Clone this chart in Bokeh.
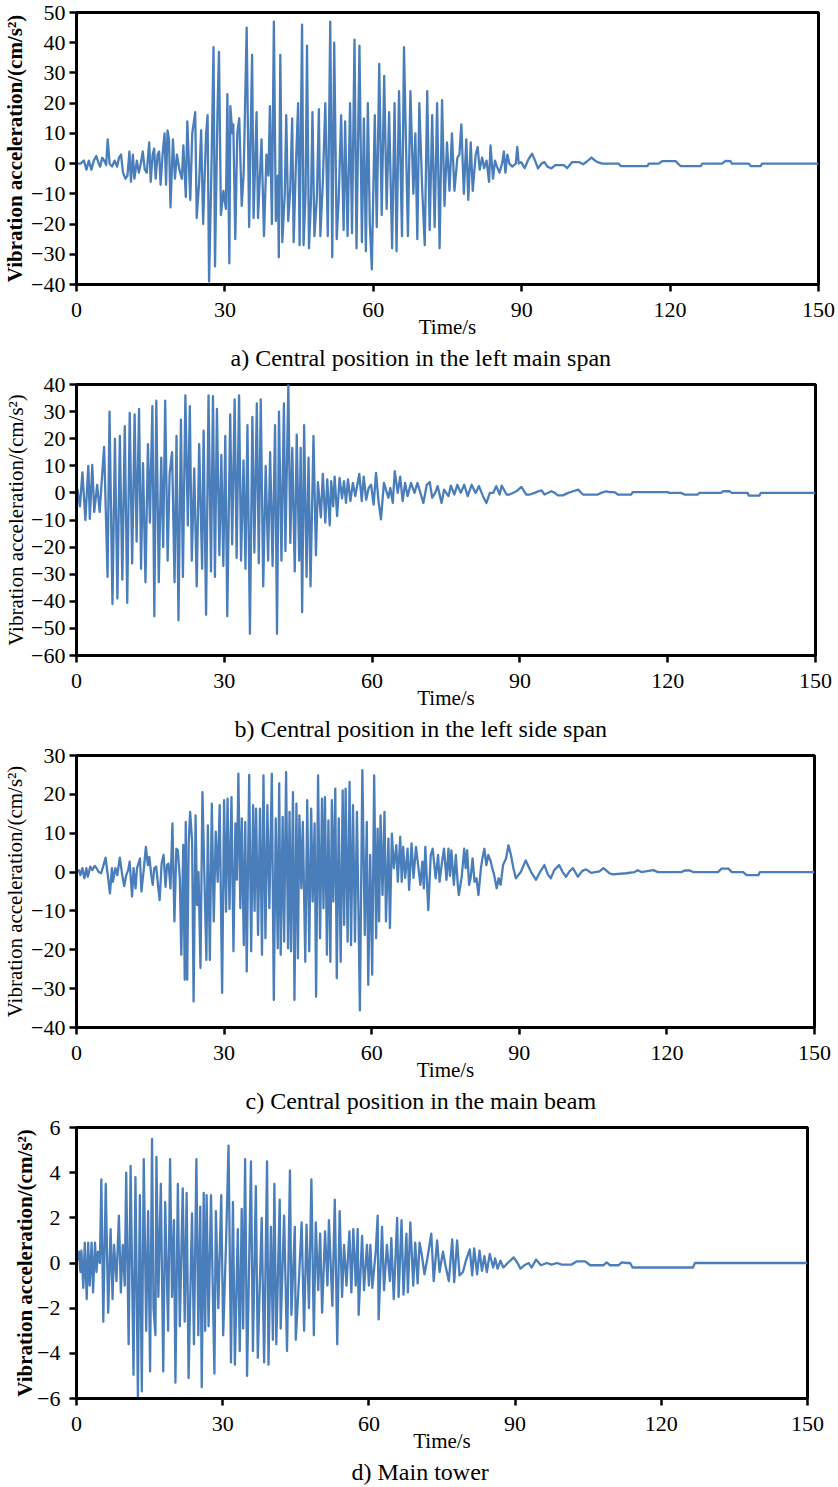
from bokeh.plotting import figure
from bokeh.layouts import column
from bokeh.models import Range1d, FixedTicker, Title
from bokeh.embed import file_html
from bokeh.resources import INLINE

# ---------------- data ----------------
x_ticks = [0, 30, 60, 90, 120, 150]

# a) Central position in the left main span
t_a = [0.0, 0.8, 1.5, 2.0, 2.5, 3.0, 3.5, 4.0, 4.5, 4.8,
       5.2, 5.6, 6.0, 6.3, 6.7, 7.2, 7.7, 8.2, 8.6, 9.0,
       9.4, 9.9, 10.3, 10.7, 11.0, 11.4, 11.7, 12.2, 12.6, 13.0,
       13.4, 13.8, 14.2, 14.7, 15.0, 15.4, 15.7, 16.0, 16.4, 16.7,
       17.0, 17.4, 17.8, 18.1, 18.4, 18.7, 19.0, 19.5, 19.9, 20.3,
       20.8, 21.3, 21.6, 22.1, 22.4, 23.0, 23.4, 24.0, 24.3, 24.8,
       25.2, 25.6, 26.2, 26.5, 26.8, 27.3, 27.7, 28.0, 28.5, 28.8,
       29.2, 29.7, 30.2, 30.5, 30.9, 31.1, 31.5, 31.7, 32.1, 32.5,
       32.9, 33.4, 33.8, 34.4, 34.9, 35.2, 35.5, 35.8, 36.4, 36.7,
       37.4, 37.9, 38.4, 38.8, 39.1, 39.5, 39.9, 40.3, 40.7, 40.9,
       41.2, 41.6, 42.1, 42.4, 42.8, 43.2, 43.6, 43.9, 44.3, 44.8,
       45.1, 45.6, 45.9, 46.3, 46.6, 47.0, 47.4, 47.7, 48.1, 48.6,
       49.0, 49.3, 49.8, 50.3, 50.8, 51.3, 51.7, 52.1, 52.6, 53.0,
       53.5, 54.0, 54.3, 54.8, 55.3, 55.7, 56.2, 56.6, 57.2, 57.7,
       58.1, 58.5, 58.9, 59.3, 59.7, 60.3, 60.7, 61.2, 61.7, 62.2,
       62.7, 63.2, 63.8, 64.3, 64.7, 65.2, 65.8, 66.2, 67.0, 67.5,
       68.1, 68.5, 68.9, 69.3, 69.9, 70.4, 70.9, 71.4, 71.9, 72.4,
       72.9, 73.4, 73.9, 74.4, 74.9, 75.4, 75.9, 76.4, 77.0, 77.4,
       77.8, 78.3, 78.8, 79.2, 79.7, 80.1, 80.7, 81.1, 81.5, 82.0,
       82.4, 82.9, 83.4, 83.7, 84.2, 84.6, 85.0, 85.5, 86.1, 86.4,
       86.7, 87.1, 87.5, 88.1, 88.8, 89.1, 89.4, 89.9, 90.6, 91.4,
       92.1, 92.7, 93.3, 94.0, 94.6, 95.2, 96.0, 96.8, 98.5, 99.2,
       100.2, 101.6, 102.4, 103.2, 104.1, 104.6, 105.3, 106.3, 109.6, 110.0,
       115.4, 115.7, 117.7, 118.4, 121.1, 122.1, 126.2, 126.5, 130.5, 131.2,
       132.2, 132.5, 135.9, 136.3, 138.3, 138.6, 150.0]
acc_a = [0, 0, 1, -2, 1, -2, 1, 2.5, 0, -1,
         2, 1, -0.5, 8, 0, -1, 1, -1, 2, 3,
         -3, -5, -4, 4, -6, 3, -5, 1, -3, 0,
         4, -2, -3, 7, -6, 3, 5, -5, 3, 4,
         -7, 3, 10, -7, 11, 8, -14.5, 8, -5, 3,
         -2, -5, 6, -11, 14, -12, 10, 17, -18, -6,
         11, -20, 10, 16, -39, 0, 38.5, -34, 17, 37,
         -17, -9, -15, 23, -33, 19, 10, 13, -25, 10,
         15, -14, -3, 45, -21, 9, 36, -18, 17, -18,
         8, -24, 3, -4, 19, -20, 47, -19, -4, -31,
         36, -26, -10, 16, -19, -9, 15, -26, -3, 20,
         -27, 46, -27, -10, 39, -28, -12, 17, -24, -11,
         18, -24, -6, 20, -24, 47, -31, 40, -25, -12,
         16, -22, 14, -24, 20, -23, 41, -28, 39, -26,
         15, -29, 20, -20, -35, 16, -21, 33, -17, 29,
         -15, 17, -28, 20, -29, 24, -24, 38.5, -24, 24,
         -10, 10, -25, 20, -9, -27, 24, -22, 16, -21,
         20, -28, 21, -14, 7, -9, 10, -9, 2, 3,
         13, -10, 8, -12, 7, -9, 3, 5.5, -2, 2,
         -1.5, 1, -6, 6, -5, 1, -1, -3, 0.5, 4,
         -3, 3, 0, -1, 0, 5.5, 0, 0.5, -1.5, 1.5,
         3.3, 1, -1.6, 0, 0.5, -1, -1.6, -0.5, -0.5, -1.5,
         0.5, 0.5, -0.2, 0.7, 2, 1.3, 0.5, 0, 0, -0.8,
         -0.8, 0, 0, 0.8, 0.8, -0.8, -0.8, 0, 0, 0.9,
         0.8, 0, 0, -0.8, -0.8, 0, 0]
y_ticks_a = [-40, -30, -20, -10, 0, 10, 20, 30, 40, 50]

# b) Central position in the left side span
t_b = [0.0, 0.2, 0.7, 1.2, 1.8, 2.4, 2.7, 3.2, 3.6, 4.2,
       4.7, 5.1, 5.6, 6.3, 6.7, 7.3, 7.8, 8.3, 8.8, 9.3,
       9.8, 10.3, 10.8, 11.3, 11.8, 12.2, 12.7, 13.1, 13.5, 14.0,
       14.5, 14.9, 15.4, 15.8, 16.2, 16.7, 17.2, 17.6, 18.0, 18.5,
       18.9, 19.4, 19.9, 20.3, 20.7, 21.2, 21.6, 22.1, 22.6, 23.0,
       23.4, 23.9, 24.4, 24.9, 25.5, 25.8, 26.3, 26.8, 27.3, 27.7,
       28.1, 28.5, 29.0, 29.4, 29.8, 30.2, 30.6, 31.2, 31.6, 32.1,
       32.5, 33.0, 33.4, 33.9, 34.3, 34.7, 35.2, 35.7, 36.1, 36.6,
       37.0, 37.4, 37.9, 38.4, 38.9, 39.3, 39.8, 40.3, 40.7, 41.1,
       41.6, 42.1, 42.4, 43.0, 43.4, 43.8, 44.3, 44.7, 45.2, 45.5,
       45.8, 46.2, 46.7, 47.1, 47.5, 48.1, 48.6, 49.0, 49.6, 50.0,
       50.5, 50.9, 51.4, 51.7, 52.1, 52.4, 52.9, 53.4, 53.9, 54.3,
       54.7, 55.1, 55.6, 56.1, 56.6, 57.0, 57.4, 57.9, 58.3, 58.8,
       59.3, 59.8, 60.3, 60.8, 61.3, 61.8, 62.4, 62.8, 63.3, 63.7,
       64.2, 64.6, 65.2, 65.7, 66.2, 66.7, 67.2, 67.9, 68.6, 69.2,
       70.4, 71.1, 71.7, 72.2, 72.8, 73.3, 74.1, 74.6, 75.5, 76.0,
       76.7, 77.3, 78.0, 78.7, 79.4, 80.2, 81.0, 81.7, 82.5, 83.2,
       83.9, 84.6, 85.2, 85.9, 86.3, 87.3, 87.9, 89.3, 90.3, 91.3,
       92.0, 93.0, 93.7, 94.4, 95.0, 96.4, 97.1, 97.7, 98.7, 99.8,
       100.8, 101.8, 102.8, 103.8, 105.8, 106.5, 107.5, 108.2, 109.2, 109.9,
       112.6, 112.9, 116.0, 120.0, 120.3, 122.7, 123.4, 126.1, 126.4, 130.8,
       131.3, 132.5, 133.0, 136.2, 136.5, 138.6, 138.9, 150.0]
acc_b = [0, 1.2, -5, 7.6, -10, 10, -9.6, 10.3, -7, 3,
         -7, 3.7, 17, -31, 30, -41, 20, -39, 21, -32,
         24.6, -40.6, 29.5, -26, 29, -18, 31, -28, 11, -33,
         18, -11, 32, -45.5, 34, -33, 13, -20, 34, -25,
         7, 15, -33, 21, -47, 27, -31, 36, -12, 32,
         -25, 9, -34.5, 18, -28, 23, -45, 36, -29, 35.7,
         -31, 31, -23, 14, -27, 21, -45.5, 29, -19, 34.5,
         -24, 36, -25, 12, -28, 25, -52, 28, -22, 33,
         -26, 34.5, -34.5, 10, -25, 15, -27, 25, -52, 30,
         -25, 33, -21.5, 40, -18.5, 16.6, -29, 21.5, -25, 16.6,
         -44, 25, -31, 13, -34.5, 21, -23, 4, -9, 7,
         -11, 5, -12, 4.3, -5, 6, -8.6, 5.5, -2, 4.3,
         -3.7, 5, -3, 3.7, -1.2, 3, 7, -3, 6, -2.5,
         1.8, 3, -4.3, 7.4, -3, -9.8, 3.7, 1.2, -1.8, 1.8,
         -3.7, 8, 0, 6, -3, 3.7, -1.2, 3.7, 0, 3.7,
         -3.7, 3, 4, -1.8, 0, 2.5, -3.7, 1.2, -1.2, 2.7,
         -0.6, 3, 0, 3, -1.2, 3, 0, 2.5, -1.2, -3.7,
         0, 0, 2.5, -0.6, 2.7, -0.6, -0.6, 0.6, 2.2, -0.6,
         -0.6, 0, 0.6, 0.9, -0.6, 0.6, 0, -0.9, -0.9, 0,
         0.6, 1.2, -0.6, -0.6, -0.6, 0, 0.6, 0.3, 0.3, -0.6,
         -0.6, 0.3, 0.3, 0.3, 0, 0, -0.6, -0.6, 0, 0,
         0.6, 0.6, 0, 0, -1, -1, 0, 0]
y_ticks_b = [-60, -50, -40, -30, -20, -10, 0, 10, 20, 30, 40]

# c) Central position in the main beam
t_c = [0.0, 0.5, 0.8, 1.2, 1.6, 2.0, 2.3, 2.8, 3.2, 3.7,
       4.1, 4.5, 5.0, 5.4, 5.9, 6.4, 6.8, 7.2, 7.4, 7.9,
       8.3, 8.8, 9.3, 9.7, 10.1, 10.5, 10.8, 11.3, 11.6, 12.0,
       12.3, 12.9, 13.2, 13.7, 14.1, 14.5, 14.8, 15.2, 15.5, 15.8,
       16.2, 16.6, 16.9, 17.3, 17.7, 18.1, 18.4, 18.7, 19.1, 19.5,
       19.9, 20.3, 20.6, 21.0, 21.3, 21.7, 22.0, 22.2, 22.5, 22.8,
       23.1, 23.5, 23.8, 24.2, 24.5, 24.8, 25.2, 25.6, 26.0, 26.4,
       26.7, 27.1, 27.5, 27.9, 28.3, 28.7, 29.1, 29.6, 30.0, 30.4,
       30.7, 31.1, 31.5, 31.9, 32.3, 32.6, 32.9, 33.3, 33.6, 34.0,
       34.3, 34.6, 35.1, 35.5, 35.9, 36.2, 36.5, 36.9, 37.3, 37.7,
       38.0, 38.4, 38.8, 39.2, 39.7, 40.1, 40.5, 40.9, 41.2, 41.5,
       41.9, 42.2, 42.6, 43.0, 43.3, 43.6, 44.0, 44.3, 44.7, 45.0,
       45.3, 45.7, 46.0, 46.5, 46.9, 47.3, 47.7, 48.0, 48.4, 48.7,
       49.1, 49.5, 49.9, 50.2, 50.5, 50.9, 51.2, 51.6, 51.9, 52.2,
       52.6, 52.9, 53.3, 53.7, 54.1, 54.4, 54.7, 55.1, 55.5, 55.8,
       56.2, 56.6, 57.0, 57.3, 57.6, 58.1, 58.6, 59.0, 59.3, 59.7,
       60.1, 60.5, 60.9, 61.2, 61.5, 61.8, 62.2, 62.6, 62.9, 63.4,
       63.7, 64.1, 64.5, 65.0, 65.3, 65.8, 66.1, 66.4, 66.8, 67.3,
       67.6, 68.1, 68.5, 69.0, 69.9, 70.3, 70.6, 70.9, 71.5, 72.0,
       72.4, 73.0, 73.5, 73.8, 74.3, 74.7, 75.2, 75.6, 75.9, 76.2,
       76.7, 77.1, 77.5, 77.7, 78.3, 78.8, 79.1, 79.4, 79.8, 80.1,
       80.5, 80.9, 81.3, 81.7, 82.2, 82.5, 82.9, 83.3, 83.7, 84.2,
       84.5, 84.9, 85.4, 85.8, 86.2, 86.7, 87.3, 87.8, 88.3, 88.8,
       89.3, 90.3, 91.3, 92.4, 93.4, 94.2, 95.1, 95.8, 96.4, 97.1,
       98.1, 98.8, 99.5, 100.2, 100.9, 101.9, 102.8, 103.6, 104.6, 106.3,
       107.1, 108.3, 109.0, 111.7, 113.4, 114.1, 114.8, 117.2, 118.2, 123.0,
       123.6, 124.7, 125.3, 130.4, 131.1, 132.5, 133.2, 135.5, 136.2, 138.6,
       138.9, 150.0]
acc_c = [0, 0.5, -0.8, 1, -1.6, 1, -1.2, 1.4, 0.5, 1.6,
         1, 0, -0.3, 1.4, 3.7, -1.2, -5.5, 1, -2.5, 1,
         -0.8, 3.7, -0.8, -3.6, -0.8, 0.5, 2.7, -6.3, 1, -4.2,
         1, 3.5, -5, 1, 6.5, 1.8, 3.9, -0.8, -3.3, 1,
         1.4, -3.8, -7.2, 2.2, 4.4, -3.8, 1.8, 2.2, -4.2, 12.5,
         -12.7, 6, 5.6, -1.6, -21.3, 7, -27.7, 12.9, -27.7, 7.4,
         15.5, 7.8, -33.3, 14.6, -8.5, 0, -24.7, 20.6, -1.6, -22.6,
         12, -22.6, 17.6, -12.7, 10.4, -2.5, 17.2, -31.1, 18.5, -10.2,
         18.9, -9.5, 19.3, -20.4, 12.5, -2, 25.3, -9.3, 13.8, -18.8,
         12.9, -25.6, 25, -20.4, 17.2, -10, 16.3, -16.2, 16.3, -21.3,
         24.9, -17, 17.2, -9.3, 25.3, -32.9, 13.8, -19.6, 22.8, -21.3,
         14.2, -17.9, 25.7, -19.6, 15.5, -20.4, 20.6, -32.9, 17.6, -22.2,
         14.6, -4.2, 12.9, -23.1, 18.5, -20.4, 16.3, -7.6, 12.5, -32.1,
         24.9, -17, 18.9, -9.3, 19.3, -21.3, 13.3, -23.1, 18.5, -7.6,
         21.5, -27.3, 13.8, -23.1, 21, -13.6, 21.5, -17.9, 23.2, -18.8,
         17.2, -17.9, 15.5, -9.3, -35.6, 26.2, -16.2, 12.9, -29, 4.4,
         -26.4, 24.9, -17, 11.2, -12.7, 14.6, -5.9, 15.5, -12.7, 8.6,
         -14.4, 9.9, 1, 6.9, -2.5, 9.1, -2.5, 6.5, -1.5, 6,
         -4.6, 7.4, -1.5, 6.5, -3.3, 2.7, -4.2, 6.5, -9.8, 4.4,
         6, -1.6, 4.4, -2.5, 2.7, 6, -2.0, 6, -1.0, 5.6,
         -3.3, 4.4, -3.3, -5.9, -1.2, 6, 1, 5.6, -3.3, -1.6,
         3.5, -2.5, -1.6, -5.9, 1, 3.5, 6, 1.8, 4.4, 2.7,
         1, -0.8, -4.2, -1.6, -3.3, 1.8, 3.5, 6.9, 4.4, 1,
         -1.6, 0, 3, 0, -2, 0, 1.8, -0.6, -1.6, 0.5,
         1.8, 0, -1.2, 0.2, 1, -1.2, 0.3, 0.7, -0.2, 0.2,
         1, -0.3, -0.6, -0.3, 0, 0.5, 0, 0.5, 0, 0,
         0.4, 0.4, 0, 0, 0.9, 0.9, 0, 0, -0.8, -0.8,
         0, 0]
y_ticks_c = [-40, -30, -20, -10, 0, 10, 20, 30]

# d) Main tower
t_d = [0.0, 0.5, 0.8, 1.0, 1.4, 1.7, 2.1, 2.4, 2.7, 3.1,
       3.4, 3.8, 4.1, 4.4, 4.8, 5.1, 5.5, 6.0, 6.5, 7.0,
       7.4, 7.7, 8.2, 8.7, 9.1, 9.5, 9.9, 10.2, 10.7, 11.1,
       11.7, 12.1, 12.6, 13.0, 13.4, 13.8, 14.3, 14.7, 15.1, 15.5,
       15.8, 16.2, 16.4, 16.8, 17.3, 17.8, 18.2, 18.8, 19.2, 19.6,
       20.0, 20.3, 20.8, 21.2, 21.8, 22.2, 22.6, 23.0, 23.7, 24.1,
       24.6, 25.0, 25.4, 25.7, 26.1, 26.4, 26.7, 27.1, 27.6, 28.3,
       28.6, 29.1, 29.7, 30.1, 30.7, 31.2, 31.7, 32.1, 32.5, 33.1,
       33.5, 33.9, 34.2, 34.6, 35.0, 35.8, 36.2, 36.8, 37.2, 38.0,
       38.5, 39.1, 39.4, 39.9, 40.3, 40.6, 41.0, 41.7, 41.9, 42.6,
       43.2, 43.8, 44.1, 44.8, 45.0, 45.7, 46.2, 46.7, 47.2, 47.7,
       48.2, 48.7, 49.1, 49.6, 50.0, 50.4, 51.0, 51.5, 51.8, 52.5,
       53.0, 53.5, 54.0, 54.5, 54.9, 55.4, 56.0, 56.4, 56.8, 57.3,
       57.7, 57.9, 58.6, 59.0, 59.6, 60.0, 60.3, 60.7, 61.4, 61.8,
       62.0, 62.7, 63.1, 63.7, 64.3, 64.6, 65.1, 65.8, 66.1, 66.7,
       67.1, 67.7, 68.0, 68.5, 69.1, 69.5, 70.0, 70.4, 70.9, 71.4,
       72.0, 72.8, 73.3, 74.0, 74.5, 75.2, 75.7, 76.4, 77.1, 77.5,
       78.1, 78.6, 79.3, 79.9, 80.7, 81.2, 81.6, 82.2, 82.7, 83.2,
       83.7, 84.2, 84.8, 85.5, 85.9, 86.4, 87.0, 87.6, 88.5, 89.7,
       90.5, 91.1, 91.9, 92.8, 93.4, 94.3, 95.3, 96.5, 97.5, 98.6,
       99.6, 101.6, 102.6, 104.4, 105.4, 108.1, 108.8, 109.5, 111.2, 111.9,
       112.9, 113.6, 114.1, 126.5, 126.9, 150.0]
acc_d = [0, 0.5, -0.4, 0.55, -1.1, 0.9, -1.6, 0.9, -1.0, 0.9,
         -1.3, 0.9, -0.4, 0.5, 0, 3.7, -2.6, 3.5, -2.2, 1.5,
         -1.6, 0.8, -0.8, 2.1, -1.3, 0.8, -1.0, 4.0, -3.6, 4.3,
         -4.95, 3.8, -5.94, 3.0, -5.68, 4.6, -3.0, 2.3, -4.8, 5.5,
         -2.0, -3.2, 4.7, -1.5, 3.5, -4.8, 2.7, -3.0, 4.6, -1.5,
         1.9, -5.3, 3.5, -2.8, 3.3, -2.6, 3.1, -5.1, 2.2, -3.6,
         4.6, -3.2, 2.5, -5.5, 3.1, -3.0, 3.0, -2.8, 3.0, -4.9,
         2.3, -2.0, 3.0, -3.2, 1.0, 5.2, -4.4, 2.7, -4.5, 1.5,
         -3.9, 2.4, -2.9, 4.6, -5.0, 4.5, -3.9, 3.4, -4.2, 2.0,
         -4.4, 4.5, -4.5, 1.6, -3.4, 3.5, -3.6, 2.8, -2.9, 2.1,
         -3.9, 4.1, -2.3, 1.6, -3.4, -0.5, 1.8, -3.0, 1.7, -2.0,
         3.7, -3.2, 1.8, -1.2, 1.3, -2.2, 1.4, -1.0, 1.9, -1.9,
         2.8, -3.6, 2.3, -1.5, 0.8, -1.0, 1.4, -1.3, 1.5, -1.0,
         1.5, -2.3, 1.2, -1.2, 0.8, -1.0, 0.8, -1.1, 0.5, 2.1,
         -2.5, 1.6, -1.2, 0.8, -0.8, 1.1, -1.6, 2.0, -1.5, 1.9,
         -1.4, 1.3, -1.3, 1.8, -1.0, 0.9, -0.9, 0.9, 0.3, -0.5,
         0.2, 1.3, -0.8, 1.0, -0.4, 0.5, -0.1, -0.8, 1.05, -0.85,
         1.0, -0.55, -0.4, 0.1, 0.6, -0.55, 0.65, -0.5, 0.55, -0.35,
         0.3, -0.4, 0.4, -0.2, 0.2, -0.25, 0.1, -0.2, 0, 0.25,
         0, -0.25, -0.1, 0, -0.2, 0.15, -0.1, 0, -0.07, 0,
         -0.07, -0.07, 0.07, 0.07, -0.1, -0.1, 0.03, -0.1, -0.1, 0.03,
         0, 0, -0.2, -0.2, 0, 0]
y_ticks_d = [-6, -4, -2, 0, 2, 4, 6]

captions = ["a) Central position in the left main span",
            "b) Central position in the left side span",
            "c) Central position in the main beam",
            "d) Main tower"]

# ---------------- styling ----------------
FONT = "Liberation Serif"
LINE = "#4A7EBB"
YLABEL = "Vibration acceleration/(cm/s\u00b2)"


def panel(t, acc, yr, yticks, caption, fw, fh, mbl, mbr, mbt, mbb,
          ylab_style, ylab_standoff, ymaj_standoff, cap_offset):
    p = figure(frame_width=fw, frame_height=fh,
               x_range=Range1d(0, 150), y_range=Range1d(*yr),
               output_backend="svg", toolbar_location=None,
               min_border_left=mbl, min_border_right=mbr,
               min_border_top=mbt, min_border_bottom=mbb,
               x_axis_label="Time/s", y_axis_label=YLABEL)
    p.line(t, acc, line_color=LINE, line_width=2.3, line_join="round")
    p.xgrid.visible = False
    p.ygrid.visible = False
    p.outline_line_color = "black"
    p.outline_line_width = 3
    p.outline_line_alpha = 1
    p.background_fill_color = "white"
    p.border_fill_color = "white"
    for ax in (p.xaxis[0], p.yaxis[0]):
        ax.axis_line_color = "black"
        ax.axis_line_width = 3
        ax.major_tick_line_color = "black"
        ax.major_tick_line_width = 2.5
        ax.major_tick_in = 0
        ax.major_tick_out = 7
        ax.minor_tick_line_color = None
        ax.major_label_text_font = FONT
        ax.major_label_text_font_size = "22px"
        ax.major_label_text_color = "black"
        ax.axis_label_text_font = FONT
        ax.axis_label_text_font_size = "21px"
        ax.axis_label_text_color = "black"
    p.xaxis.ticker = FixedTicker(ticks=x_ticks)
    p.yaxis.ticker = FixedTicker(ticks=yticks)
    p.xaxis.major_label_standoff = 11
    p.xaxis.axis_label_standoff = -5
    p.xaxis.axis_label_text_font_style = "normal"
    p.yaxis.axis_label_text_font_style = ylab_style
    p.yaxis.axis_label_standoff = ylab_standoff
    p.yaxis.major_label_standoff = ymaj_standoff
    p.add_layout(Title(text=caption, align="left", offset=cap_offset,
                       text_font=FONT, text_font_size="24px",
                       text_font_style="normal", text_color="black",
                       standoff=2, vertical_align="bottom"), "below")
    return p


pa = panel(t_a, acc_a, (-40, 50), y_ticks_a, captions[0], 742, 272, 76, 18, 12, 88,
           "bold", 1, 4, 154)
pb = panel(t_b, acc_b, (-60, 40), y_ticks_b, captions[1], 739, 271, 76, 20, 12, 88,
           "normal", 0, 4, 158)
pc = panel(t_c, acc_c, (-40, 30), y_ticks_c, captions[2], 738, 272, 76, 20, 12, 88,
           "normal", 1, 4, 169)
pd = panel(t_d, acc_d, (-6, 6), y_ticks_d, captions[3], 731, 271, 76, 20, 12, 88,
           "bold", -3, 9, 275)

layout = column(pa, pb, pc, pd, spacing=0)
open("out.html", "w").write(file_html(layout, INLINE))
